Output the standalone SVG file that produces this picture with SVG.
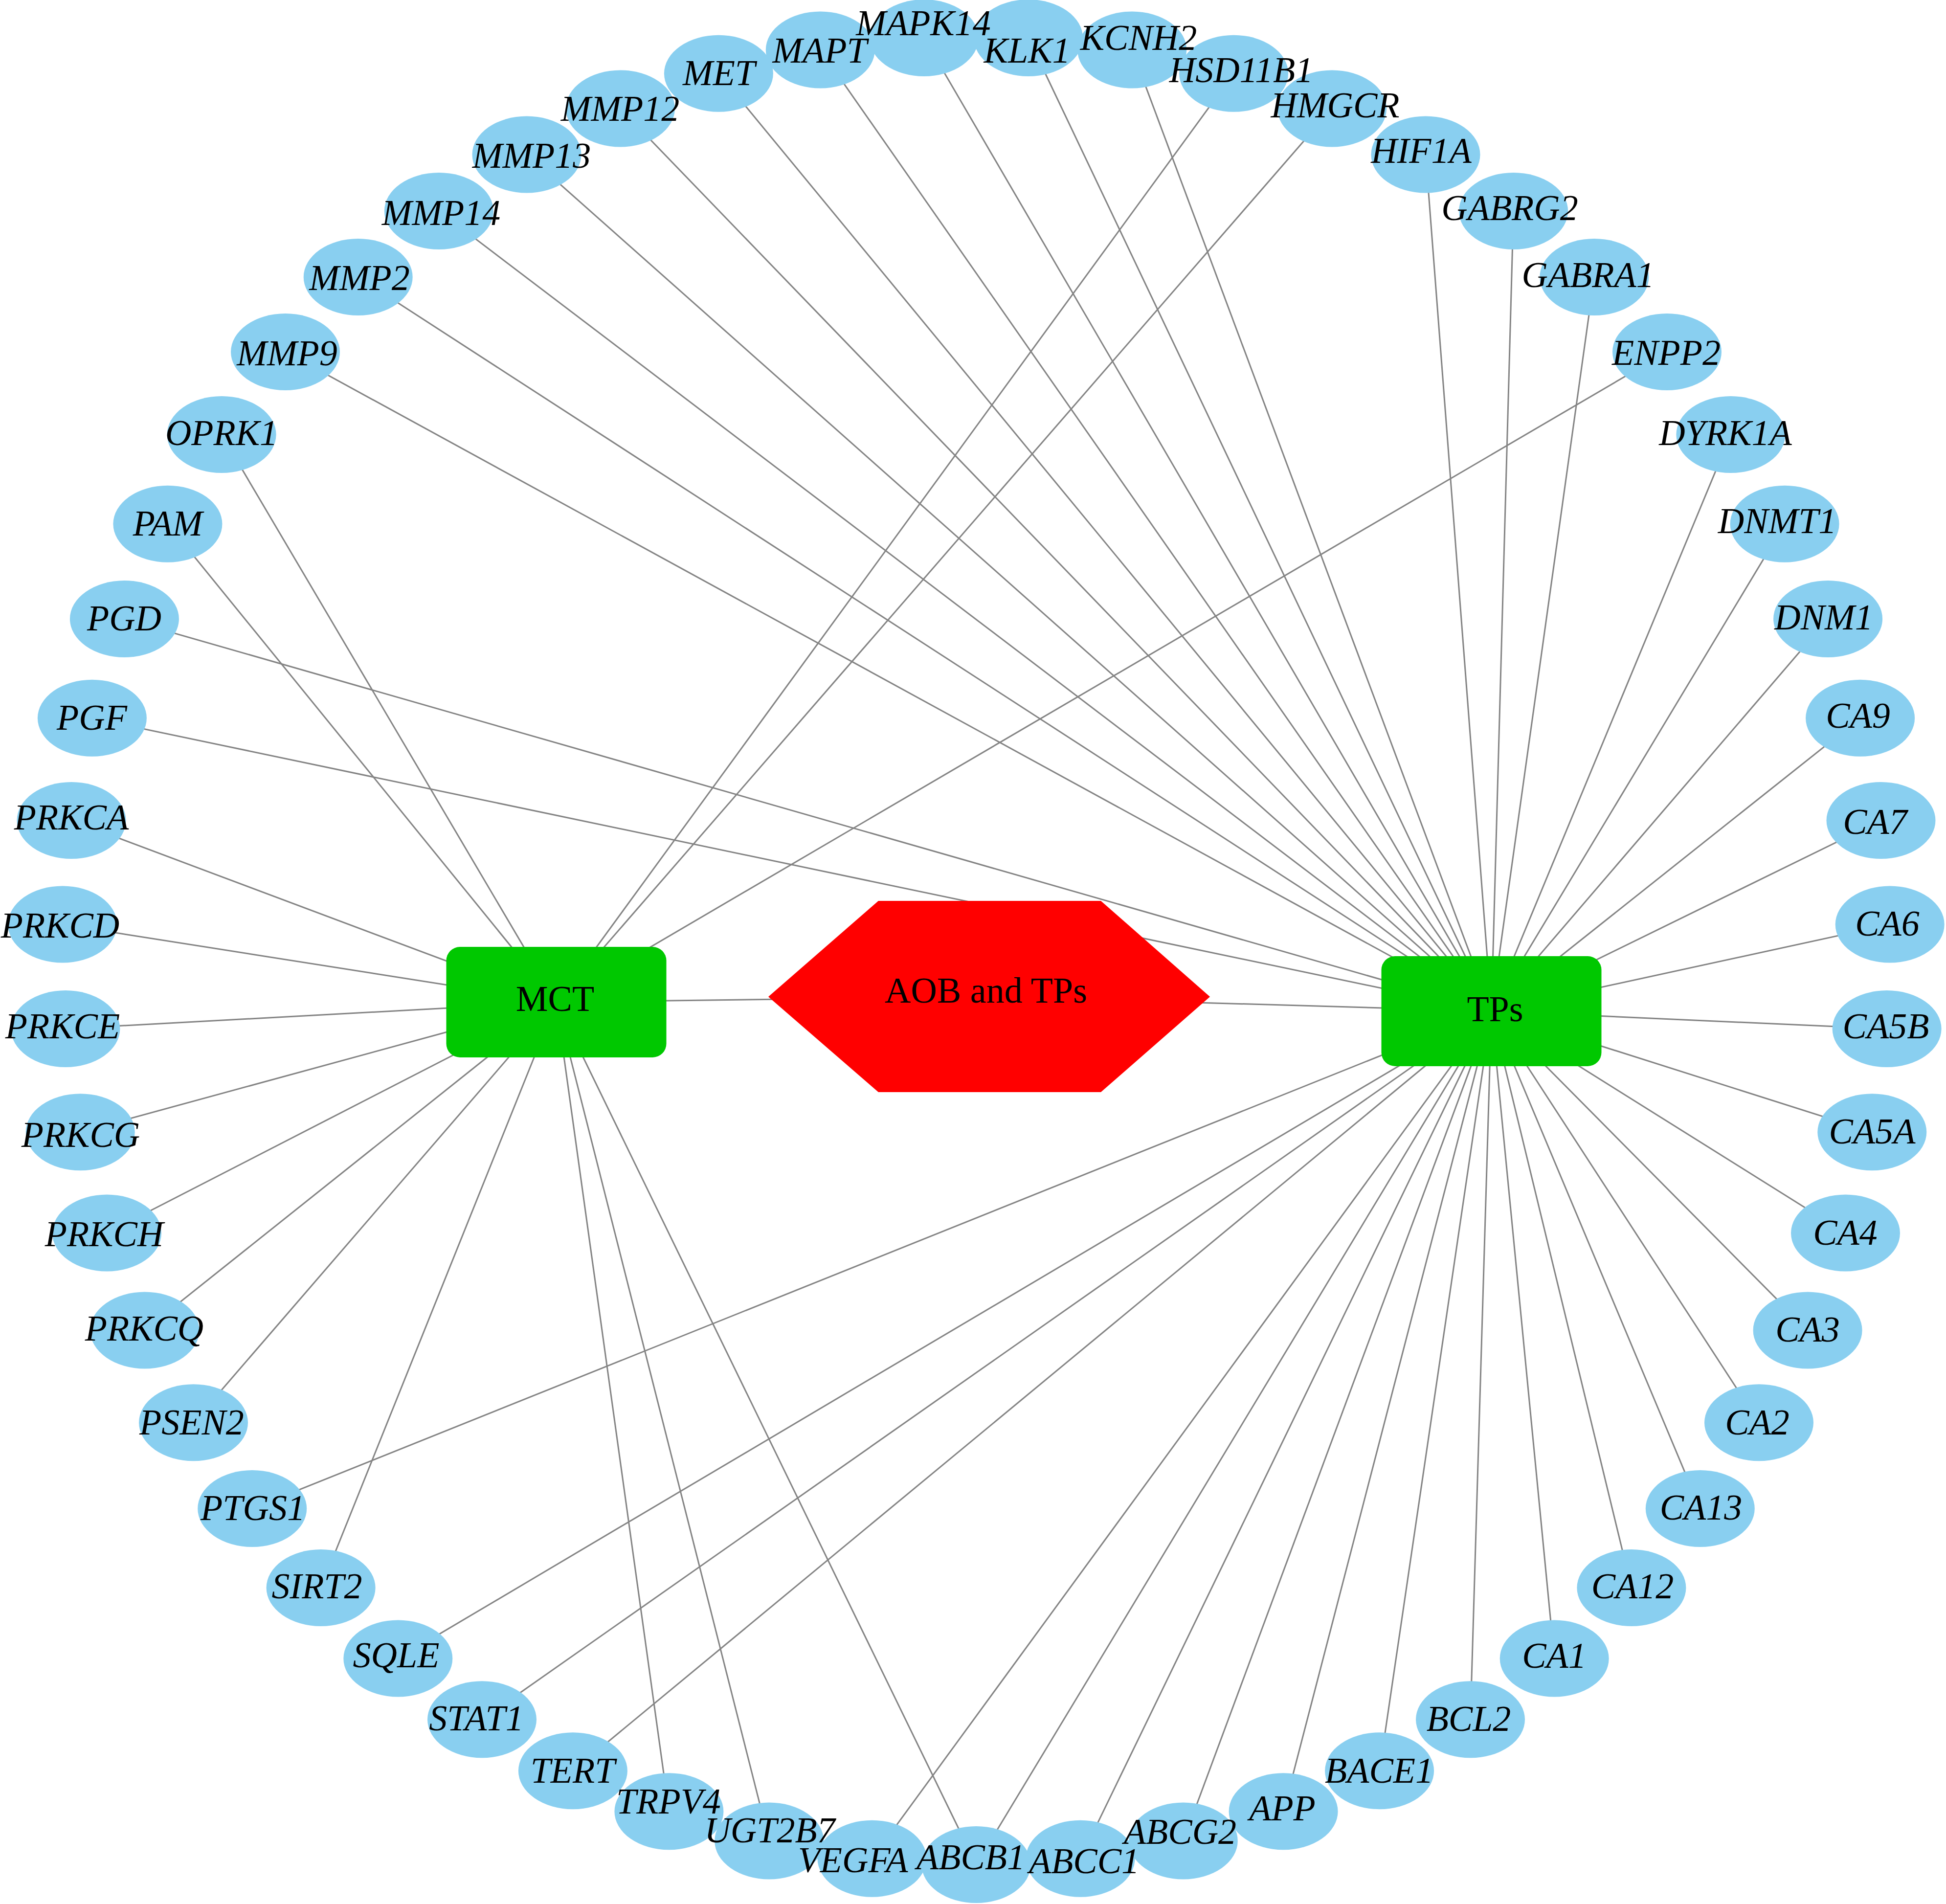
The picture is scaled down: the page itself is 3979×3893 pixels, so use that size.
<svg xmlns="http://www.w3.org/2000/svg" width="3979" height="3893" viewBox="0 0 3979 3893">
<style>
.edges line{stroke:#848484;stroke-width:3;fill:none}
.nodes{isolation:isolate}
.g ellipse{fill:#89CFF0;mix-blend-mode:darken}
.g text{font-family:"Liberation Serif","Times New Roman",serif;font-style:italic;font-size:74px;text-anchor:middle;fill:#000}
.hub text{font-family:"Liberation Serif","Times New Roman",serif;font-size:74px;text-anchor:middle;fill:#000}
.box{fill:#00C800}
.hex{fill:#FF0000}
</style>
<rect width="3979" height="3893" fill="#FFFFFF"/>
<g id="edges" class="edges">
<line x1="1137.5" y1="2049" x2="2022.5" y2="2037.5"/>
<line x1="2022.5" y1="2037.5" x2="3049.5" y2="2067.5"/>
<line x1="1137.5" y1="2049" x2="453.1" y2="888.6"/>
<line x1="1137.5" y1="2049" x2="342.9" y2="1071.3"/>
<line x1="1137.5" y1="2049" x2="2522.6" y2="150.2"/>
<line x1="1137.5" y1="2049" x2="2723.6" y2="221.9"/>
<line x1="1137.5" y1="2049" x2="3408.5" y2="719.5"/>
<line x1="1137.5" y1="2049" x2="146" y2="1677.5"/>
<line x1="1137.5" y1="2049" x2="127.8" y2="1890.1"/>
<line x1="1137.5" y1="2049" x2="133.9" y2="2103.5"/>
<line x1="1137.5" y1="2049" x2="164.2" y2="2314.7"/>
<line x1="1137.5" y1="2049" x2="218.5" y2="2521.1"/>
<line x1="1137.5" y1="2049" x2="295.9" y2="2719.9"/>
<line x1="1137.5" y1="2049" x2="395.5" y2="2908.7"/>
<line x1="1137.5" y1="2049" x2="656.1" y2="3246.5"/>
<line x1="1137.5" y1="2049" x2="1367.9" y2="3703.8"/>
<line x1="1137.5" y1="2049" x2="1572.7" y2="3763.9"/>
<line x1="1137.5" y1="2049" x2="1996" y2="3812.5"/>
<line x1="3049.5" y1="2067.5" x2="1996" y2="3812.5"/>
<line x1="3049.5" y1="2067.5" x2="2209" y2="3800.3"/>
<line x1="3049.5" y1="2067.5" x2="2419.3" y2="3763.9"/>
<line x1="3049.5" y1="2067.5" x2="2624.1" y2="3703.8"/>
<line x1="3049.5" y1="2067.5" x2="2820.6" y2="3620.7"/>
<line x1="3049.5" y1="2067.5" x2="3006.5" y2="3515.8"/>
<line x1="3049.5" y1="2067.5" x2="3178.2" y2="3391.1"/>
<line x1="3049.5" y1="2067.5" x2="3335.9" y2="3246.5"/>
<line x1="3049.5" y1="2067.5" x2="3476.3" y2="3084.5"/>
<line x1="3049.5" y1="2067.5" x2="3596.5" y2="2908.7"/>
<line x1="3049.5" y1="2067.5" x2="3696.1" y2="2719.9"/>
<line x1="3049.5" y1="2067.5" x2="3773.5" y2="2521.1"/>
<line x1="3049.5" y1="2067.5" x2="3827.8" y2="2314.7"/>
<line x1="3049.5" y1="2067.5" x2="3858.1" y2="2103.5"/>
<line x1="3049.5" y1="2067.5" x2="3864.2" y2="1890.1"/>
<line x1="3049.5" y1="2067.5" x2="3846" y2="1677.5"/>
<line x1="3049.5" y1="2067.5" x2="3803.6" y2="1468.3"/>
<line x1="3049.5" y1="2067.5" x2="3737.6" y2="1265.4"/>
<line x1="3049.5" y1="2067.5" x2="3649.1" y2="1071.3"/>
<line x1="3049.5" y1="2067.5" x2="3538.9" y2="888.6"/>
<line x1="3049.5" y1="2067.5" x2="3259.8" y2="566.5"/>
<line x1="3049.5" y1="2067.5" x2="3094.6" y2="431.4"/>
<line x1="3049.5" y1="2067.5" x2="2915" y2="316.1"/>
<line x1="3049.5" y1="2067.5" x2="2314.7" y2="101.9"/>
<line x1="3049.5" y1="2067.5" x2="2102.7" y2="77.5"/>
<line x1="3049.5" y1="2067.5" x2="1889.3" y2="77.5"/>
<line x1="3049.5" y1="2067.5" x2="1677.3" y2="101.9"/>
<line x1="3049.5" y1="2067.5" x2="1469.4" y2="150.2"/>
<line x1="3049.5" y1="2067.5" x2="1268.4" y2="221.9"/>
<line x1="3049.5" y1="2067.5" x2="1077" y2="316.1"/>
<line x1="3049.5" y1="2067.5" x2="897.4" y2="431.4"/>
<line x1="3049.5" y1="2067.5" x2="732.2" y2="566.5"/>
<line x1="3049.5" y1="2067.5" x2="583.5" y2="719.5"/>
<line x1="3049.5" y1="2067.5" x2="254.4" y2="1265.4"/>
<line x1="3049.5" y1="2067.5" x2="188.4" y2="1468.3"/>
<line x1="3049.5" y1="2067.5" x2="515.7" y2="3084.5"/>
<line x1="3049.5" y1="2067.5" x2="813.8" y2="3391.1"/>
<line x1="3049.5" y1="2067.5" x2="985.5" y2="3515.8"/>
<line x1="3049.5" y1="2067.5" x2="1171.4" y2="3620.7"/>
<line x1="3049.5" y1="2067.5" x2="1783" y2="3800.3"/>
</g>
<g id="nodes" class="nodes">
<g id="node-AOB" class="hub"><polygon class="hex" points="1571,2038 1796,1842 2251,1842 2474,2038 2251,2233 1796,2233"/><text x="2016" y="2050">AOB and TPs</text></g>
<g id="node-MCT" class="hub"><rect class="box" x="912.5" y="1936" width="450" height="226" rx="28"/><text x="1135" y="2067">MCT</text></g>
<g id="node-TPs" class="hub"><rect class="box" x="2824.5" y="1955" width="450" height="225" rx="28"/><text x="3057" y="2088">TPs</text></g>
<g id="node-ABCB1" class="g"><ellipse cx="1996" cy="3812.5" rx="111.5" ry="78.5"/><text x="1985" y="3822">ABCB1</text></g>
<g id="node-ABCC1" class="g"><ellipse cx="2209" cy="3800.3" rx="111.5" ry="78.5"/><text x="2217" y="3830">ABCC1</text></g>
<g id="node-ABCG2" class="g"><ellipse cx="2419.3" cy="3763.9" rx="111.5" ry="78.5"/><text x="2413" y="3770">ABCG2</text></g>
<g id="node-APP" class="g"><ellipse cx="2624.1" cy="3703.8" rx="111.5" ry="78.5"/><text x="2622" y="3722">APP</text></g>
<g id="node-BACE1" class="g"><ellipse cx="2820.6" cy="3620.7" rx="111.5" ry="78.5"/><text x="2820" y="3645">BACE1</text></g>
<g id="node-BCL2" class="g"><ellipse cx="3006.5" cy="3515.8" rx="111.5" ry="78.5"/><text x="3003" y="3539">BCL2</text></g>
<g id="node-CA1" class="g"><ellipse cx="3178.2" cy="3391.1" rx="111.5" ry="78.5"/><text x="3178" y="3410">CA1</text></g>
<g id="node-CA12" class="g"><ellipse cx="3335.9" cy="3246.5" rx="111.5" ry="78.5"/><text x="3338" y="3268">CA12</text></g>
<g id="node-CA13" class="g"><ellipse cx="3476.3" cy="3084.5" rx="111.5" ry="78.5"/><text x="3478" y="3107">CA13</text></g>
<g id="node-CA2" class="g"><ellipse cx="3596.5" cy="2908.7" rx="111.5" ry="78.5"/><text x="3593" y="2933">CA2</text></g>
<g id="node-CA3" class="g"><ellipse cx="3696.1" cy="2719.9" rx="111.5" ry="78.5"/><text x="3696" y="2743">CA3</text></g>
<g id="node-CA4" class="g"><ellipse cx="3773.5" cy="2521.1" rx="111.5" ry="78.5"/><text x="3773" y="2545">CA4</text></g>
<g id="node-CA5A" class="g"><ellipse cx="3827.8" cy="2314.7" rx="111.5" ry="78.5"/><text x="3828" y="2338">CA5A</text></g>
<g id="node-CA5B" class="g"><ellipse cx="3858.1" cy="2103.5" rx="111.5" ry="78.5"/><text x="3856" y="2123">CA5B</text></g>
<g id="node-CA6" class="g"><ellipse cx="3864.2" cy="1890.1" rx="111.5" ry="78.5"/><text x="3859" y="1913">CA6</text></g>
<g id="node-CA7" class="g"><ellipse cx="3846" cy="1677.5" rx="111.5" ry="78.5"/><text x="3834" y="1705">CA7</text></g>
<g id="node-CA9" class="g"><ellipse cx="3803.6" cy="1468.3" rx="111.5" ry="78.5"/><text x="3799" y="1488">CA9</text></g>
<g id="node-DNM1" class="g"><ellipse cx="3737.6" cy="1265.4" rx="111.5" ry="78.5"/><text x="3729" y="1287">DNM1</text></g>
<g id="node-DNMT1" class="g"><ellipse cx="3649.1" cy="1071.3" rx="111.5" ry="78.5"/><text x="3634" y="1090">DNMT1</text></g>
<g id="node-DYRK1A" class="g"><ellipse cx="3538.9" cy="888.6" rx="111.5" ry="78.5"/><text x="3528" y="910">DYRK1A</text></g>
<g id="node-ENPP2" class="g"><ellipse cx="3408.5" cy="719.5" rx="111.5" ry="78.5"/><text x="3407" y="746">ENPP2</text></g>
<g id="node-GABRA1" class="g"><ellipse cx="3259.8" cy="566.5" rx="111.5" ry="78.5"/><text x="3247" y="587">GABRA1</text></g>
<g id="node-GABRG2" class="g"><ellipse cx="3094.6" cy="431.4" rx="111.5" ry="78.5"/><text x="3087" y="450">GABRG2</text></g>
<g id="node-HIF1A" class="g"><ellipse cx="2915" cy="316.1" rx="111.5" ry="78.5"/><text x="2906" y="333">HIF1A</text></g>
<g id="node-HMGCR" class="g"><ellipse cx="2723.6" cy="221.9" rx="111.5" ry="78.5"/><text x="2730" y="240">HMGCR</text></g>
<g id="node-HSD11B1" class="g"><ellipse cx="2522.6" cy="150.2" rx="111.5" ry="78.5"/><text x="2538" y="168">HSD11B1</text></g>
<g id="node-KCNH2" class="g"><ellipse cx="2314.7" cy="101.9" rx="111.5" ry="78.5"/><text x="2328" y="102">KCNH2</text></g>
<g id="node-KLK1" class="g"><ellipse cx="2102.7" cy="77.5" rx="111.5" ry="78.5"/><text x="2100" y="128">KLK1</text></g>
<g id="node-MAPK14" class="g"><ellipse cx="1889.3" cy="77.5" rx="111.5" ry="78.5"/><text x="1888" y="72">MAPK14</text></g>
<g id="node-MAPT" class="g"><ellipse cx="1677.3" cy="101.9" rx="111.5" ry="78.5"/><text x="1676" y="128">MAPT</text></g>
<g id="node-MET" class="g"><ellipse cx="1469.4" cy="150.2" rx="111.5" ry="78.5"/><text x="1470" y="174">MET</text></g>
<g id="node-MMP12" class="g"><ellipse cx="1268.4" cy="221.9" rx="111.5" ry="78.5"/><text x="1268" y="247">MMP12</text></g>
<g id="node-MMP13" class="g"><ellipse cx="1077" cy="316.1" rx="111.5" ry="78.5"/><text x="1087" y="343">MMP13</text></g>
<g id="node-MMP14" class="g"><ellipse cx="897.4" cy="431.4" rx="111.5" ry="78.5"/><text x="902" y="460">MMP14</text></g>
<g id="node-MMP2" class="g"><ellipse cx="732.2" cy="566.5" rx="111.5" ry="78.5"/><text x="735" y="593">MMP2</text></g>
<g id="node-MMP9" class="g"><ellipse cx="583.5" cy="719.5" rx="111.5" ry="78.5"/><text x="587" y="747">MMP9</text></g>
<g id="node-OPRK1" class="g"><ellipse cx="453.1" cy="888.6" rx="111.5" ry="78.5"/><text x="453" y="910">OPRK1</text></g>
<g id="node-PAM" class="g"><ellipse cx="342.9" cy="1071.3" rx="111.5" ry="78.5"/><text x="343" y="1095">PAM</text></g>
<g id="node-PGD" class="g"><ellipse cx="254.4" cy="1265.4" rx="111.5" ry="78.5"/><text x="254" y="1289">PGD</text></g>
<g id="node-PGF" class="g"><ellipse cx="188.4" cy="1468.3" rx="111.5" ry="78.5"/><text x="188" y="1492">PGF</text></g>
<g id="node-PRKCA" class="g"><ellipse cx="146" cy="1677.5" rx="111.5" ry="78.5"/><text x="146" y="1696">PRKCA</text></g>
<g id="node-PRKCD" class="g"><ellipse cx="127.8" cy="1890.1" rx="111.5" ry="78.5"/><text x="123" y="1917">PRKCD</text></g>
<g id="node-PRKCE" class="g"><ellipse cx="133.9" cy="2103.5" rx="111.5" ry="78.5"/><text x="128" y="2123">PRKCE</text></g>
<g id="node-PRKCG" class="g"><ellipse cx="164.2" cy="2314.7" rx="111.5" ry="78.5"/><text x="165" y="2345">PRKCG</text></g>
<g id="node-PRKCH" class="g"><ellipse cx="218.5" cy="2521.1" rx="111.5" ry="78.5"/><text x="213" y="2548">PRKCH</text></g>
<g id="node-PRKCQ" class="g"><ellipse cx="295.9" cy="2719.9" rx="111.5" ry="78.5"/><text x="295" y="2741">PRKCQ</text></g>
<g id="node-PSEN2" class="g"><ellipse cx="395.5" cy="2908.7" rx="111.5" ry="78.5"/><text x="392" y="2933">PSEN2</text></g>
<g id="node-PTGS1" class="g"><ellipse cx="515.7" cy="3084.5" rx="111.5" ry="78.5"/><text x="517" y="3108">PTGS1</text></g>
<g id="node-SIRT2" class="g"><ellipse cx="656.1" cy="3246.5" rx="111.5" ry="78.5"/><text x="648" y="3268">SIRT2</text></g>
<g id="node-SQLE" class="g"><ellipse cx="813.8" cy="3391.1" rx="111.5" ry="78.5"/><text x="810" y="3409">SQLE</text></g>
<g id="node-STAT1" class="g"><ellipse cx="985.5" cy="3515.8" rx="111.5" ry="78.5"/><text x="974" y="3538">STAT1</text></g>
<g id="node-TERT" class="g"><ellipse cx="1171.4" cy="3620.7" rx="111.5" ry="78.5"/><text x="1171" y="3645">TERT</text></g>
<g id="node-TRPV4" class="g"><ellipse cx="1367.9" cy="3703.8" rx="111.5" ry="78.5"/><text x="1367" y="3708">TRPV4</text></g>
<g id="node-UGT2B7" class="g"><ellipse cx="1572.7" cy="3763.9" rx="111.5" ry="78.5"/><text x="1574" y="3767">UGT2B7</text></g>
<g id="node-VEGFA" class="g"><ellipse cx="1783" cy="3800.3" rx="111.5" ry="78.5"/><text x="1744" y="3828">VEGFA</text></g>
</g>
</svg>
